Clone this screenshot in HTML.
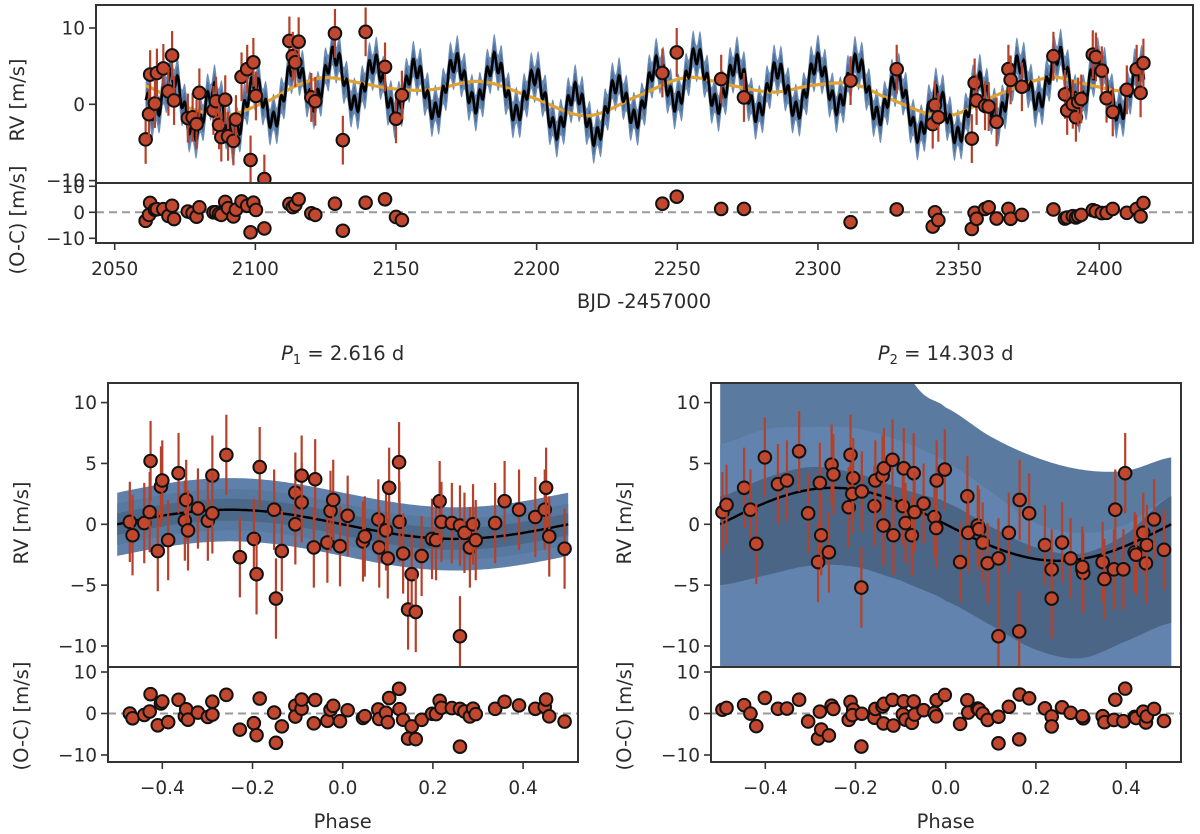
<!DOCTYPE html>
<html><head><meta charset="utf-8"><style>
html,body{margin:0;padding:0;background:#fff}
svg{display:block}
text{font-family:"DejaVu Sans","Liberation Sans",sans-serif;fill:#2b2b2b}
</style></head><body>
<svg id="c" width="1200" height="834" viewBox="0 0 1200 834" xmlns="http://www.w3.org/2000/svg">
<defs>
<clipPath id="clipTop"><rect x="96" y="5" width="1097" height="178"/></clipPath>
<clipPath id="clipL"><rect x="108" y="383" width="470" height="284"/></clipPath>
<clipPath id="clipR"><rect x="711" y="383" width="470" height="284"/></clipPath>
</defs>
</svg>
<script>
// ---- time-series data ----
const topT = [2061.0,2062.2,2062.6,2064.3,2065.0,2067.3,2069.1,2070.4,2071.1,2076.0,2077.7,2079.1,2080.1,2085.1,2086.0,2087.1,2087.9,2089.3,2090.3,2092.2,2093.1,2095.1,2097.1,2098.3,2099.3,2100.2,2103.2,2112.1,2113.3,2114.2,2115.4,2119.9,2121.3,2128.3,2131.1,2139.2,2146.1,2150.0,2152.1,
 2244.7,2249.8,2265.6,2273.7,2311.6,
 2328,2340.8,2341.6,2342.8,2354.7,2355.7,2356.4,2359.4,2360.7,2363.5,2367.7,2368.5,2372.5,2383.7,2387.8,2388.6,2390.6,2391.7,2392.5,2393.6,2397.7,2398.8,2400.9,2402.6,2404.8,2409.8,2413.3,2414.7,2415.7];
const topRV = [-4.6,-1.3,3.9,0.1,4.1,4.7,1.7,6.4,0.5,-1.8,-1.7,-2.6,1.5,-0.8,0.4,-2.7,-4.3,0.6,-4.2,-4.8,-2.0,3.6,4.6,-7.3,5.5,1.1,-9.8,8.3,6.3,5.5,8.2,0.9,0.4,9.3,-4.7,9.5,4.9,-1.9,1.2,
 4.1,6.8,3.3,0.9,3.1,
 4.6,-2.6,-0.1,-1.7,-4.5,2.8,0.5,-0.2,-0.3,-2.3,4.6,3.2,2.3,6.3,1.3,-0.8,0,-1.7,0.3,0.7,6.5,6.2,4.4,0.8,-1,1.9,4.6,1.5,5.4];
const topRes = [-3.3,-1.0,3.6,1.0,1.2,1.2,-1.4,2.5,-2.6,0.3,-0.3,-1.7,1.9,0,0,-0.6,-1.0,4.0,1.6,-1.6,1.0,4.2,2.5,-7.7,3.7,0.9,-6.2,3.2,2.0,2.8,5.0,-0.4,-1.0,3.3,-7.1,3.7,5.0,-1.8,-3.0,
 3.3,6.0,1.3,1.3,-3.8,
 1.1,-5.5,0,-3,-6.4,-0.2,-2.5,1.3,1.9,-2.4,1.3,-2.5,-1,1.1,-2.4,-2,-1.5,-2,-1.5,-1,0.8,0.4,-0.3,-0.2,1.3,-0.2,1.3,-1.6,3.6];
const errTop = 3.2;
// GP trend knots (orange)
const gpT = [2061,2075,2090,2105,2115,2125,2140,2150,2162,2180,2197.6,2217.8,2236.8,2253.3,2268.8,2284.2,2298.4,2312,2323.3,2341,2347,2364.8,2382.5,2394.4,2406.2,2416];
const gpV = [2.4,-0.3,-1.4,0.5,2.5,3.5,2.6,2.0,1.9,3.0,1.0,-1.5,1.2,3.5,2.5,1.6,2.5,2.7,1.0,-1.4,-1.5,1.4,3.5,2.7,1.8,1.4];
// planet parameters
const P1 = 2.616, K1 = 1.2, T01 = 2060.0;
const P2 = 14.303, K2 = 3.0, T02 = 2131.7;
const topTicksX = [2050,2100,2150,2200,2250,2300,2350,2400];
const topTicksY = [-10,0,10];
const resTicks = [-10,0,10];

// ---- phase panel 1 ----
const ph1 = [-0.472,-0.466,-0.44,-0.428,-0.426,-0.41,-0.403,-0.4,-0.387,-0.364,-0.35,-0.347,-0.343,-0.321,-0.299,-0.289,-0.289,-0.258,-0.228,-0.197,-0.191,-0.184,-0.152,-0.148,-0.135,-0.105,-0.105,-0.091,-0.091,-0.064,-0.061,-0.034,-0.027,-0.021,-0.006,0.011,0.045,0.049,0.079,0.081,0.096,0.1,0.103,0.125,0.126,0.134,0.145,0.153,0.162,0.175,0.198,0.207,0.215,0.219,0.242,0.26,0.26,0.27,0.282,0.289,0.295,0.338,0.359,0.391,0.427,0.448,0.451,0.458,0.492];
const rv1 = [0.2,-0.9,0.1,1.0,5.2,-2.2,3.1,3.6,-1.3,4.2,0.3,2.0,-0.5,1.3,0.3,4.0,0.9,5.7,-2.7,-1.2,-4.1,4.7,1.2,-6.1,-2.2,2.6,0,1.8,4.0,-1.9,3.7,-1.5,1.1,2.0,-1.8,0.7,-1.4,-1.0,0.4,-1.9,-0.5,-2.8,3.0,5.1,0.2,-2.4,-7.0,-4.1,-7.2,-2.6,-1.2,-1.3,1.9,0.2,0.1,-0.1,-9.2,-0.7,-1.9,0,-1.3,0.1,1.9,1.2,0.6,1.2,3.0,-1.0,-2.0];
// ---- phase panel 2 ----
const ph2 = [-0.495,-0.486,-0.447,-0.433,-0.42,-0.401,-0.372,-0.352,-0.325,-0.305,-0.283,-0.279,-0.276,-0.259,-0.253,-0.249,-0.215,-0.211,-0.205,-0.207,-0.187,-0.186,-0.158,-0.156,-0.14,-0.137,-0.138,-0.118,-0.116,-0.095,-0.093,-0.089,-0.075,-0.071,-0.069,-0.049,-0.025,-0.021,-0.02,-0.002,0.032,0.048,0.05,0.071,0.074,0.082,0.093,0.117,0.117,0.14,0.164,0.163,0.185,0.22,0.235,0.235,0.258,0.277,0.303,0.305,0.303,0.348,0.352,0.373,0.376,0.394,0.398,0.419,0.422,0.438,0.444,0.446,0.462,0.484];
const rv2 = [1.0,1.6,3.0,1.2,-1.6,5.5,3.3,3.6,6.0,0.9,-3.1,3.4,-0.9,-2.3,4.9,4.1,1.4,5.7,3.8,2.5,-5.2,2.7,1.5,3.6,4.0,4.6,-0.1,5.3,-0.9,1.5,4.6,0.1,-0.9,4.2,1.0,1.7,0.6,-0.3,3.6,4.5,-3.1,2.3,-0.7,-0.1,-0.4,-1.5,-3.2,-2.8,-9.2,-0.7,2.0,-8.8,0.9,-1.7,-3.7,-6.1,-1.5,-2.8,-3.7,-4.0,-3.5,-3.1,-4.5,-3.7,1.2,-3.7,4.2,-2.3,-2.5,-0.7,-3.2,-1.7,0.4,-2.1];
const errPh = 3.3;
// band knots for panel 2
const bandPh = [-0.5,-0.4,-0.3,-0.2,-0.1,-0.05,0,0.1,0.2,0.3,0.4,0.5];
const bandTop3 = [15,15,15,15,13,10.7,9.6,7.2,5.5,4.5,4.4,5.5];
const bandTop2 = [6.6,7.8,8.0,7.9,6.9,6.1,5.1,2.7,0.1,-0.7,0.0,2.3];
const bandTop1 = [2.3,3.8,4.7,4.2,3.0,2.4,1.8,-0.2,-1.9,-2.4,-0.8,2.3];
const bandBot1 = [-5.0,-4.2,-3.4,-3.5,-4.6,-5.4,-6.3,-8.3,-10.3,-11.0,-9.6,-8.1];
const phTicksX = [-0.4,-0.2,0.0,0.2,0.4];
const phTicksY = [-10,-5,0,5,10];

const NS = "http://www.w3.org/2000/svg";
const svg = document.getElementById('c');
function el(tag, attrs, parent){const e=document.createElementNS(NS,tag);for(const k in attrs)e.setAttribute(k,attrs[k]);(parent||svg).appendChild(e);return e;}
function interp(xs, ys, x){
  if(x<=xs[0]) return ys[0]; if(x>=xs[xs.length-1]) return ys[ys.length-1];
  let i=0; while(x>xs[i+1]) i++;
  const t=(x-xs[i])/(xs[i+1]-xs[i]);
  const p0=ys[Math.max(i-1,0)],p1=ys[i],p2=ys[i+1],p3=ys[Math.min(i+2,ys.length-1)];
  const t2=t*t,t3=t2*t;
  return 0.5*((2*p1)+(-p0+p2)*t+(2*p0-5*p1+4*p2-p3)*t2+(-p0+3*p1-3*p2+p3)*t3);
}
function wrap(p){return p-Math.floor(p+0.5);}
function kep(p,K){return -K*Math.sin(2*Math.PI*p);}

// scales
const xT = t => 114.7 + (t-2050)*2.813;
const yT = v => 104.3 - v*7.63;
const yTR = r => 212.3 - r*2.6;
const xL = p => 342.7 + p*451;
const xR = p => 945.7 + p*451;
const yP = v => 524.3 - v*12.17;
const yPR = r => 713.5 - r*4.15;

function pathStr(pts){return pts.map((q,i)=>(i?'L':'M')+q[0].toFixed(1)+','+q[1].toFixed(1)).join('');}

function marker(g, x, y, yl, yh){
  const eb = el('line',{x1:x,x2:x,y1:yl,y2:yh,stroke:'#b5412a','stroke-width':2.2},g);
  
  
  const c = el('circle',{cx:x,cy:y,r:6.3,fill:'#c2472f',stroke:'#111','stroke-width':2},g);
  
  
}
function frame(x,y,w,h,name){
  const r=el('rect',{x:x,y:y,width:w,height:h,fill:'none',stroke:'#333','stroke-width':2});
  
  
}
function yTick(x, y, label){
  el('line',{x1:x-7,x2:x,y1:y,y2:y,stroke:'#333','stroke-width':1.6});
  const t=el('text',{x:x-11,y:y+6.5,'text-anchor':'end','font-size':18.5});
  t.textContent=label;
  
  
}
function xTick(x, y, label){
  el('line',{x1:x,x2:x,y1:y,y2:y+7,stroke:'#333','stroke-width':1.6});
  const t=el('text',{x:x,y:y+32,'text-anchor':'middle','font-size':18.5});
  t.textContent=label;
  
  
}
function fmt(v){return (v<0?'\u2212':'')+Math.abs(v);}
function fmt1(v){return (v<0?'\u2212':'')+Math.abs(v).toFixed(1);}
function vLabel(x,y,txt,name){
  const t=el('text',{x:0,y:0,'text-anchor':'middle','font-size':19.5,transform:`translate(${x},${y}) rotate(-90)`});
  t.textContent=txt;
  
  
}

// ===== TOP PANEL =====
const gTop = el('g',{'clip-path':'url(#clipTop)'});


const full = t => interp(gpT,gpV,t) + kep(wrap((t-T02)/P2),K2) + kep(wrap((t-T01)/P1),K1);
const ts=[]; for(let t=gpT[0]; t<=gpT[gpT.length-1]; t+=0.15) ts.push(t);
function band(fn, w, color, g, name){
  const up=ts.map(t=>[xT(t),yT(fn(t)+w)]), dn=ts.map(t=>[xT(t),yT(fn(t)-w)]).reverse();
  const p=el('path',{d:pathStr(up.concat(dn))+'Z',fill:color,stroke:'none'},g);
  
  
}
band(full,2.4,'#6b8db8',gTop,'model-band-outer');
band(full,1.3,'#4e6f98',gTop,'model-band-inner');
const gpLine = el('path',{d:pathStr(ts.map(t=>[xT(t),yT(interp(gpT,gpV,t))])),fill:'none',stroke:'#e0a232','stroke-width':3.2},gTop);


const fullLine = el('path',{d:pathStr(ts.map(t=>[xT(t),yT(full(t))])),fill:'none',stroke:'#000','stroke-width':2.6},gTop);


const gTopPts = el('g',{'clip-path':'url(#clipTop)'});
topT.forEach((t,i)=>marker(gTopPts,xT(t),yT(topRV[i]),yT(topRV[i]-errTop),yT(topRV[i]+errTop)));
// top residuals
const dl=el('line',{x1:96,x2:1193,y1:yTR(0),y2:yTR(0),stroke:'#999','stroke-width':2,'stroke-dasharray':'8,5'});


const gTopRes = el('g',{});
topT.forEach((t,i)=>marker(gTopRes,xT(t),yTR(topRes[i]),yTR(topRes[i]-1.2),yTR(topRes[i]+1.2)));
frame(96,5,1097,178,'rv-time-axes');
frame(96,183,1097,60,'residual-time-axes');
topTicksY.forEach(v=>yTick(96,yT(v),fmt(v)));
resTicks.forEach(v=>yTick(96,yTR(v),fmt(v)));
topTicksX.forEach(v=>xTick(xT(v),243,String(v)));
vLabel(24,100,'RV [m/s]','y-axis-title-rv');
vLabel(24,220,'(O-C) [m/s]','y-axis-title-residual');
let xl=el('text',{x:644,y:308,'text-anchor':'middle','font-size':19.5}); xl.textContent='BJD -2457000';



// ===== PHASE PANELS =====
function phasePanel(xs, ph, rv, K, clipId, left, name, titleTxt, sub, bandsFn){
  const g = el('g',{'clip-path':`url(#${clipId})`});
  
  
  bandsFn(g);
  const ps=[]; for(let p=-0.5;p<=0.5001;p+=0.005) ps.push(p);
  const ml=el('path',{d:pathStr(ps.map(p=>[xs(p),yP(kep(p,K))])),fill:'none',stroke:'#000','stroke-width':2.4},g);
  
  
  const gp=el('g',{'clip-path':`url(#${clipId})`});
  ph.forEach((p,i)=>marker(gp,xs(p),yP(rv[i]),yP(rv[i]-errPh),yP(rv[i]+errPh)));
  const z=el('line',{x1:left,x2:left+470,y1:yPR(0),y2:yPR(0),stroke:'#999','stroke-width':2,'stroke-dasharray':'8,5'});
  
  
  const gr=el('g',{});
  ph.forEach((p,i)=>{const r=rv[i]-kep(p,K); marker(gr,xs(p),yPR(r),yPR(r-errPh*0.35),yPR(r+errPh*0.35));});
  frame(left,383,470,284,name+'-rv-axes');
  frame(left,667,470,95,name+'-residual-axes');
  phTicksY.forEach(v=>yTick(left,yP(v),fmt(v)));
  resTicks.forEach(v=>yTick(left,yPR(v),fmt(v)));
  phTicksX.forEach(v=>xTick(xs(v),762,fmt1(v)));
  vLabel(left-80,523,'RV [m/s]',name+'-y-title');
  vLabel(left-80,716,'(O-C) [m/s]',name+'-residual-y-title');
  const xt=el('text',{x:xs(0),y:828,'text-anchor':'middle','font-size':19.5}); xt.textContent='Phase';
  
  
  const tt=el('text',{x:xs(0),y:360,'text-anchor':'middle','font-size':19.5});
  tt.innerHTML=`<tspan font-style="italic">P</tspan><tspan font-size="13" dy="4">${sub}</tspan><tspan dy="-4"> = ${titleTxt} d</tspan>`;
  
  
}
phasePanel(xL, ph1, rv1, K1, 'clipL', 108, 'phase-p1', '2.616', '1', g=>{
  const ps=[]; for(let p=-0.5;p<=0.5001;p+=0.005) ps.push(p);
  [[2.6,'#5e80aa'],[1.7,'#57789f'],[0.9,'#4c6889']].forEach(([w,c])=>{
    const up=ps.map(p=>[xL(p),yP(kep(p,K1)+w)]), dn=ps.map(p=>[xL(p),yP(kep(p,K1)-w)]).reverse();
    const b=el('path',{d:pathStr(up.concat(dn))+'Z',fill:c},g);
    
    
  });
});
phasePanel(xR, ph2, rv2, K2, 'clipR', 711, 'phase-p2', '14.303', '2', g=>{
  const ps=[]; for(let p=-0.5;p<=0.5001;p+=0.005) ps.push(p);
  function poly(topArr, botArr, color){
    const up=ps.map(p=>[xR(p),yP(interp(bandPh,topArr,p))]);
    const dn=ps.map(p=>[xR(p),botArr?yP(interp(bandPh,botArr,p)):700]).reverse();
    const b=el('path',{d:pathStr(up.concat(dn))+'Z',fill:color},g);
    
    
  }
  poly(bandTop3,null,'#5a7a9f');
  poly(bandTop2,null,'#6283ad');
  poly(bandTop1,bandBot1,'#4b6586');
});
</script>
</body></html>
